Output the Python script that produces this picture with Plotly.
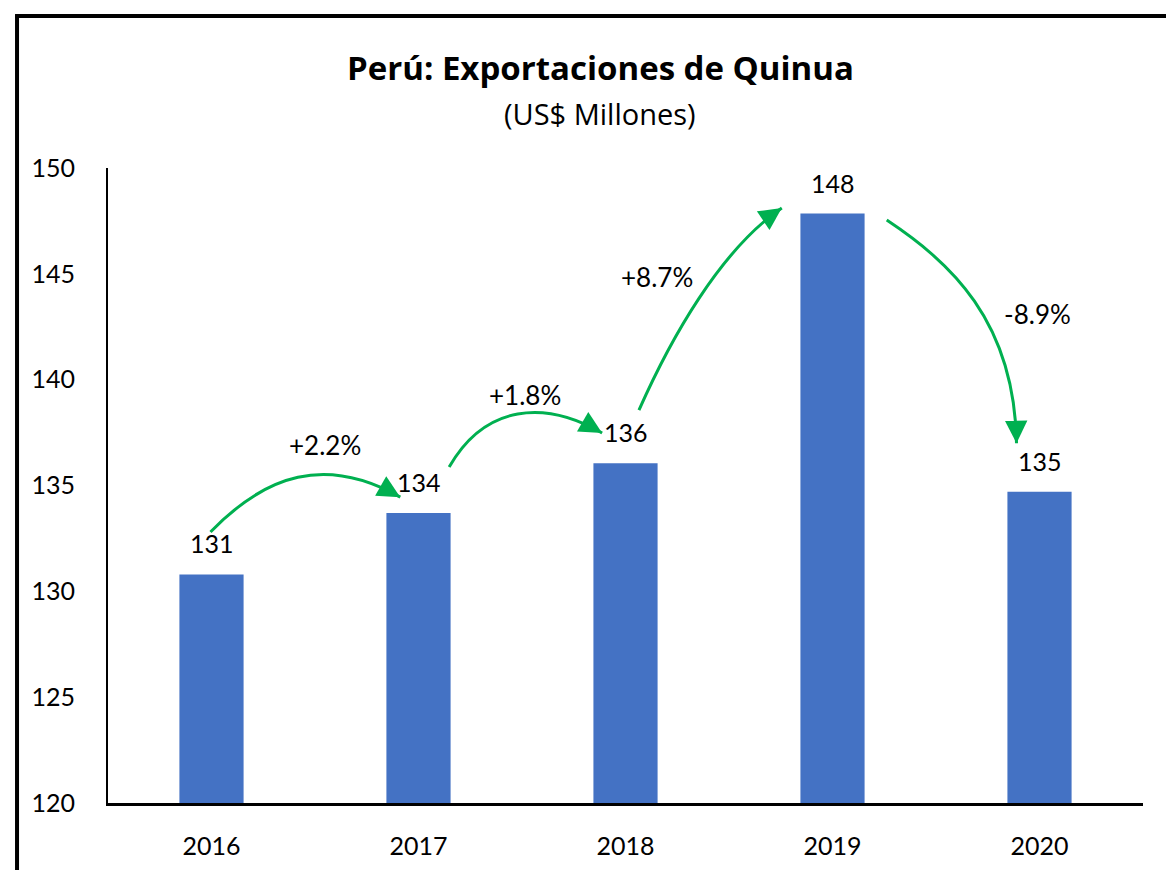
"""Perú: exportaciones de quinua, barras con flechas de variación anual."""

import plotly.graph_objects as go

YEARS = ["2016", "2017", "2018", "2019", "2020"]
EXPORTS = [130.8, 133.7, 136.05, 147.85, 134.7]

# flechas curvas entre barras (coordenadas de datos: índice de año, US$ millones)
ARROW_CURVES = [
    [(-0.005, 132.80), (0.261, 135.50), (0.55, 136.45), (0.912, 134.45)],
    [(1.148, 135.87), (1.322, 138.85), (1.611, 139.04), (1.887, 137.48)],
    [(2.065, 138.56), (2.215, 141.87), (2.456, 146.12), (2.755, 148.11)],
    [(3.262, 147.54), (3.566, 145.56), (3.879, 142.82), (3.889, 137.0)],
]
PCT_LABEL_POS = [(0.55, 136.91), (1.515, 139.27), (2.152, 144.85), (3.99, 143.1)]

GREEN = "#00B050"
BLUE = "#4472C4"
FONT = "Lato, Carlito, Calibri, sans-serif"
TITLE_FONT = "'Open Sans', Calibri, sans-serif"

x_idx = list(range(len(YEARS)))

fig = go.Figure(
    go.Bar(
        x=x_idx,
        y=EXPORTS,
        width=0.31,
        marker={"color": BLUE, "line": {"width": 0}},
        hoverinfo="skip",
    )
)

annotations = []
# valores sobre las barras
for i, v in zip(x_idx, EXPORTS):
    annotations.append(
        dict(x=i, y=v, text=f"{v:.0f}", showarrow=False, yshift=31,
             font={"size": 25, "color": "#000000"}, yanchor="middle")
    )

shapes = []
for curve, (px, py), v0, v1 in zip(ARROW_CURVES, PCT_LABEL_POS, EXPORTS[:-1], EXPORTS[1:]):
    (x0, y0), (x1, y1), (x2, y2), (x3, y3) = curve
    shapes.append(
        dict(type="path", xref="x", yref="y",
             path=f"M {x0},{y0} C {x1},{y1} {x2},{y2} {x3},{y3}",
             line={"color": GREEN, "width": 3})
    )
    # punta de flecha
    annotations.append(
        dict(x=x3, y=y3, ax=x3 + 0.12 * (x2 - x3), ay=y3 + 0.12 * (y2 - y3),
             axref="x", ayref="y", text="", showarrow=True,
             arrowhead=2, arrowsize=1.5, arrowwidth=3, arrowcolor=GREEN, standoff=0)
    )
    pct = (v1 / v0 - 1) * 100
    annotations.append(
        dict(x=px, y=py, text=f"{pct:+.1f}%", showarrow=False,
             font={"size": 26, "color": "#000000"})
    )

# título y subtítulo
annotations.append(
    dict(xref="paper", yref="paper", x=0.4754, y=1.1575,
         text="<b>Perú: Exportaciones de Quinua</b>", showarrow=False,
         font={"size": 33, "color": "#000000", "family": TITLE_FONT}, yanchor="middle")
)
annotations.append(
    dict(xref="paper", yref="paper", x=0.4754, y=1.0866,
         text="(US$ Millones)", showarrow=False,
         font={"size": 29, "color": "#000000", "family": TITLE_FONT}, yanchor="middle")
)

# marco negro (solo lados izquierdo y superior, el resto queda fuera del recorte)
frame = {"color": "#000000", "width": 4}
shapes.append(dict(type="line", xref="paper", yref="paper",
                   x0=-0.0879, x1=-0.0879, y0=-0.4, y1=1.2415, line=frame, layer="above"))
shapes.append(dict(type="line", xref="paper", yref="paper",
                   x0=-0.0898, x1=1.3, y0=1.2394, y1=1.2394, line=frame, layer="above"))

# la página añade 8 px de margen por lado: la figura se ajusta para no desbordar
fig.update_layout(
    width=1158,
    height=862,
    margin={"l": 100, "r": 23, "t": 160, "b": 67, "autoexpand": False},
    paper_bgcolor="#ffffff",
    plot_bgcolor="#ffffff",
    font={"family": FONT, "color": "#000000", "size": 25},
    showlegend=False,
    annotations=annotations,
    shapes=shapes,
    xaxis=dict(
        range=[-0.5, 4.5],
        tickvals=x_idx,
        ticktext=YEARS,
        showline=True,
        linecolor="#000000",
        linewidth=3,
        showgrid=False,
        zeroline=False,
        ticks="",
        ticklabelstandoff=19,
        tickfont={"size": 25},
        automargin=False,
    ),
    yaxis=dict(
        range=[120, 150],
        dtick=5,
        showline=True,
        linecolor="#000000",
        linewidth=2,
        showgrid=False,
        zeroline=False,
        ticks="",
        ticklabelstandoff=26,
        tickfont={"size": 25},
        automargin=False,
    ),
)

fig.write_html("out.html")
